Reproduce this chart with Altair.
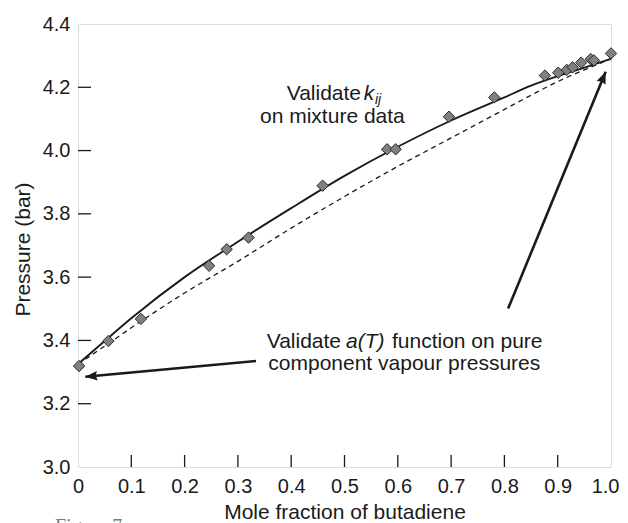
import altair as alt
import pandas as pd

# ---- measured data ----
mole_fraction = [0.002, 0.057, 0.118, 0.246, 0.279, 0.320, 0.459, 0.580, 0.596,
                 0.696, 0.781, 0.876, 0.901, 0.917, 0.928, 0.944, 0.962, 0.968, 1.0]
pressure = [3.319, 3.398, 3.468, 3.636, 3.688, 3.725, 3.889, 4.004, 4.004,
            4.107, 4.168, 4.237, 4.246, 4.255, 4.263, 4.278, 4.289, 4.285, 4.307]

fit_x = [0.0, 0.05, 0.1, 0.2, 0.3, 0.4, 0.5, 0.6, 0.7, 0.8, 0.85, 0.9, 0.95, 1.0]
fit_kij = [3.325, 3.398, 3.470, 3.600, 3.712, 3.818, 3.920, 4.012, 4.095, 4.168,
           4.205, 4.235, 4.262, 4.290]
fit_nokij = [3.325, 3.382, 3.440, 3.550, 3.650, 3.755, 3.855, 3.950, 4.040, 4.130,
             4.175, 4.218, 4.255, 4.290]

x_ticks = [0.0, 0.1, 0.2, 0.3, 0.4, 0.5, 0.6, 0.7, 0.8, 0.9, 1.0]
y_ticks = [3.0, 3.2, 3.4, 3.6, 3.8, 4.0, 4.2, 4.4]
x_inner_ticks = [0.1, 0.2, 0.3, 0.4, 0.5, 0.6, 0.7, 0.8, 0.9]
y_inner_ticks = [3.2, 3.4, 3.6, 3.8, 4.0, 4.2]

arrow_start_x = [0.334, 0.807]
arrow_start_y = [3.335, 3.501]
arrow_tip_x = [0.0137, 0.990]
arrow_tip_y = [3.285, 4.249]
arrow_angle = [264.7, 22.4]

normal_text = ["Validate", "on mixture data", "Validate", "function on pure",
               "component vapour pressures"]
normal_x = [0.3916, 0.3415, 0.354, 0.589, 0.357]
normal_y = [4.160, 4.086, 3.375, 3.375, 3.305]

italic_text = ["k", "ij", "a(T)"]
italic_x = [0.536, 0.557, 0.503]
italic_y = [4.160, 4.147, 3.375]
italic_size = [21, 14, 21]

FONT = "Liberation Sans, Arial, Helvetica, sans-serif"
INK = "#1a1a1a"
W, H = 533, 443

X = alt.X("x:Q",
          scale=alt.Scale(domain=[0, 1], nice=False, zero=False),
          axis=alt.Axis(values=x_ticks, title="Mole fraction of butadiene",
                        grid=False, domain=False, ticks=False, tickSize=0,
                        labelExpr="datum.value == 0 ? '0' : format(datum.value, '.1f')",
                        labelAlign=alt.condition("datum.value == 1", alt.value("right"),
                                                 alt.value("center")),
                        labelOffset=alt.condition("datum.value == 1", alt.value(8),
                                                  alt.value(0)),
                        labelFontSize=20, labelPadding=9, labelFlush=False,
                        labelOverlap=False, labelColor=INK, labelFont=FONT,
                        titleFont=FONT, titleFontSize=21, titleFontWeight="normal",
                        titleColor=INK, titleY=51, titleBaseline="alphabetic"))
Y = alt.Y("y:Q",
          scale=alt.Scale(domain=[3.0, 4.4], nice=False, zero=False),
          axis=alt.Axis(values=y_ticks, title="Pressure (bar)",
                        grid=False, domain=False, ticks=False, tickSize=0,
                        labelExpr="format(datum.value, '.1f')",
                        labelFontSize=20, labelPadding=8, labelFlush=False,
                        labelOverlap=False, labelColor=INK, labelFont=FONT,
                        titleFont=FONT, titleFontSize=21, titleFontWeight="normal",
                        titleColor=INK, titleX=-49, titleY=225,
                        titleBaseline="alphabetic"))

pts = pd.DataFrame({"x": mole_fraction, "y": pressure})
fit1 = pd.DataFrame({"x": fit_x, "y": fit_kij})
fit2 = pd.DataFrame({"x": fit_x, "y": fit_nokij})
xt = pd.DataFrame({"x": x_inner_ticks})
yt = pd.DataFrame({"y": y_inner_ticks})
arrows = pd.DataFrame({"x": arrow_start_x, "y": arrow_start_y,
                       "x2": arrow_tip_x, "y2": arrow_tip_y})
heads = pd.DataFrame({"x": arrow_tip_x, "y": arrow_tip_y, "a": arrow_angle})
tn = pd.DataFrame({"x": normal_x, "y": normal_y, "t": normal_text})
ti = pd.DataFrame({"x": italic_x, "y": italic_y, "t": italic_text, "s": italic_size})

dashed = alt.Chart(fit2).mark_line(color=INK, strokeWidth=1.3, strokeDash=[5, 4],
                                   interpolate="monotone").encode(x=X, y=Y)
solid = alt.Chart(fit1).mark_line(color=INK, strokeWidth=1.9,
                                  interpolate="monotone").encode(x=X, y=Y)
points = alt.Chart(pts).mark_point(shape="diamond", filled=True, size=130,
                                   fill="#808080", stroke="#2a2a2a",
                                   strokeWidth=1, opacity=1).encode(x=X, y=Y)
xticks = alt.Chart(xt).mark_rule(color=INK, strokeWidth=1.3).encode(
    x=X, y=alt.value(H), y2=alt.value(H - 12))
yticks = alt.Chart(yt).mark_rule(color=INK, strokeWidth=1.3).encode(
    y=Y, x=alt.value(0), x2=alt.value(13))
shafts = alt.Chart(arrows).mark_rule(color=INK, strokeWidth=2.6).encode(
    x=X, y=Y, x2="x2:Q", y2="y2:Q")
arrowheads = alt.Chart(heads).mark_point(
    shape="M0,0 L0.8,2 L0,1.75 L-0.8,2 Z", filled=True, size=144,
    color=INK, opacity=1, strokeWidth=0).encode(
    x=X, y=Y, angle=alt.Angle("a:Q", scale=None))
text_n = alt.Chart(tn).mark_text(align="left", baseline="alphabetic", font=FONT,
                                 fontSize=21, color=INK).encode(x=X, y=Y, text="t:N")
text_i = alt.Chart(ti).mark_text(align="left", baseline="alphabetic", font=FONT,
                                 fontStyle="italic", color=INK).encode(
    x=X, y=Y, text="t:N", size=alt.Size("s:Q", scale=None))
fig = alt.Chart(pd.DataFrame({"t": ["Figure 7"]})).mark_text(
    align="left", baseline="top", font="Liberation Serif, Times New Roman, serif",
    fontSize=20, color="#7a7a7a").encode(x=alt.value(-23), y=alt.value(493), text="t:N")

chart = alt.layer(dashed, solid, points, xticks, yticks, shafts, arrowheads,
                  text_n, text_i, fig).properties(
    width=W, height=H,
    autosize=alt.AutoSizeParams(type="none"),
    padding={"left": 70, "top": 16, "right": 9, "bottom": 56},
).configure_view(stroke=INK, strokeWidth=1.5).configure(background="white")

chart.save("out.html", embed_options={"renderer": "svg", "actions": False})
